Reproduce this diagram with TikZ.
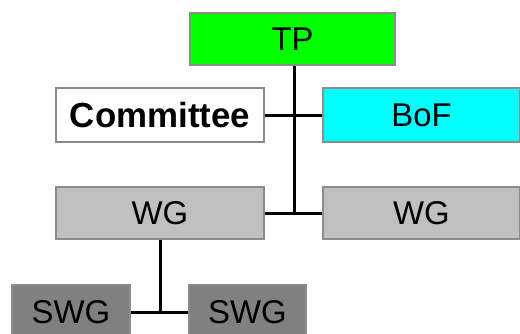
\documentclass[tikz,border=0pt]{standalone}
\usepackage{fontspec}
\setmainfont{Liberation Sans}
\begin{document}
\begin{tikzpicture}[x=1bp,y={(0bp,-1bp)}]
\tikzset{caja/.style={rectangle,inner sep=0pt,draw=black!45,line width=2bp,font=\fontsize{33}{36}\selectfont},
         liga/.style={line width=3bp,black}}
\definecolor{verde}{HTML}{00FF00}
\definecolor{cian}{HTML}{00FFFF}
\definecolor{gris}{HTML}{C0C0C0}
\definecolor{grisosc}{HTML}{808080}

  \clip (0,0) rectangle (520,333);

  \draw (292.5,39) node[caja,fill=verde,minimum width=205bp,minimum height=52bp](tp) {TP};
  \draw (160,115) node[caja,fill=white,minimum width=207bp,minimum height=54bp,font=\fontsize{35}{38}\selectfont\bfseries](com) {Committee};
  \draw (421.5,115) node[caja,fill=cian,minimum width=197bp,minimum height=54bp](bof) {BoF};
  \draw (160,213) node[caja,fill=gris,minimum width=208bp,minimum height=52bp](wga) {WG};
  \draw (421.5,213) node[caja,fill=gris,minimum width=197bp,minimum height=52bp](wgb) {WG};
  \draw (71,312) node[caja,fill=grisosc,minimum width=118bp,minimum height=54bp](swga) {SWG};
  \draw (247.5,312) node[caja,fill=grisosc,minimum width=117bp,minimum height=54bp](swgb) {SWG};

  \coordinate (j) at (294,213);
  \coordinate (k) at (160,312);

	\draw[liga] (tp.south -| j) -- (j);
	\draw[liga] (com) -- (bof);
	\draw[liga] (wga) -- (wgb);
	\draw[liga] (wga.south) -- (k);
	\draw[liga] (swga) -- (swgb);
\end{tikzpicture}
\end{document}
